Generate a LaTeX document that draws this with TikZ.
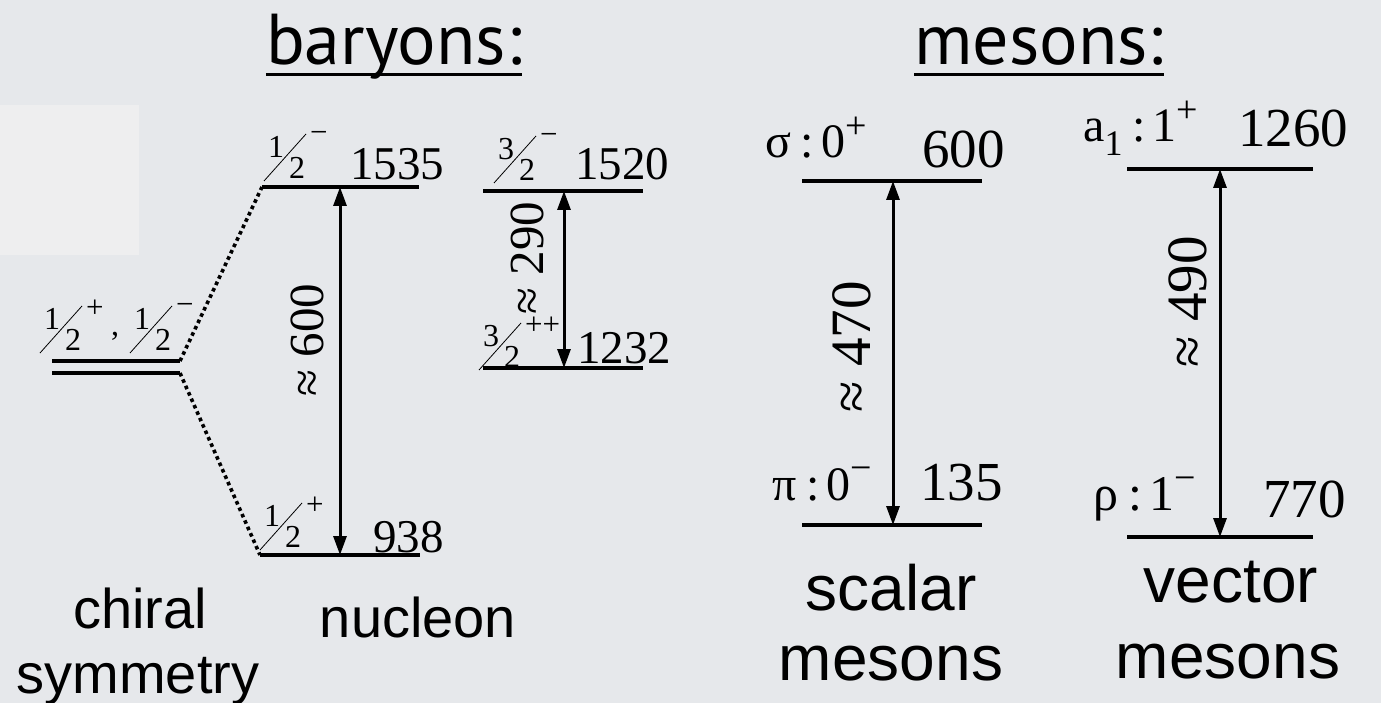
\documentclass[tikz,border=0pt]{standalone}
\usepackage{fontspec}
\setmainfont{Liberation Serif}
\newfontfamily\hel{Liberation Sans}
\newfontfamily\gill{PT Sans}
\usetikzlibrary{arrows.meta}
\definecolor{bg}{HTML}{E6E8EB}
\definecolor{panel}{HTML}{EEEEEF}
\newcommand{\upsign}[1]{\raisebox{0.40em}{\fontsize{38}{38}\selectfont #1}}
\tikzset{
 level/.style={line width=3.5pt},
 gaparrow/.style={line width=3pt, {Triangle[length=19pt,width=13pt]}-{Triangle[length=19pt,width=13pt]}},
 dotline/.style={line width=3.6pt, dash pattern=on 3.6pt off 3.4pt},
 bnum/.style={inner sep=0pt, anchor=base west, font=\fontsize{47}{50}\selectfont},
 mnum/.style={inner sep=0pt, anchor=base west, font=\fontsize{55}{60}\selectfont},
 mlab/.style={inner sep=0pt, anchor=base west, font=\fontsize{48}{52}\selectfont},
 gapb/.style={inner sep=0pt, rotate=90, font=\fontsize{49}{52}\selectfont},
 gapm/.style={inner sep=0pt, rotate=90, font=\fontsize{57}{60}\selectfont},
 fracdig/.style={inner sep=0pt, font=\fontsize{32}{34}\selectfont},
 fracsup/.style={inner sep=0pt, anchor=west, font=\fontsize{31}{34}\selectfont},
 title/.style={inner sep=0pt, anchor=base, font=\gill\fontsize{72}{80}\selectfont},
 caption/.style={inner sep=0pt, anchor=base, font=\hel\fontsize{56}{60}\selectfont},
 mcaption/.style={inner sep=0pt, anchor=base, font=\hel\fontsize{64}{68}\selectfont},
 pics/spinfrac/.style n args={3}{code={
   \draw[line width=0.8pt] (-21,23) -- (21,-24);
   \node[fracdig] (-n) at (-9,-11) {#1};
   \node[fracdig] (-d) at (12,10) {#2};
   \node[fracsup] (-s) at (25,-21) {#3};
 }},
}
\begin{document}
\begin{tikzpicture}[x=1pt,y=-1pt]
\fill[bg] (0,0) rectangle (1381,703);
\useasboundingbox (0,0) rectangle (1381,703);
\fill[panel] (0,105) rectangle (139,255);

% titles
\node[title] (tb) at (394,65) {baryons:};
\node[title] (tm) at (1039,65) {mesons:};
\draw[line width=3pt] ([yshift=-10pt]tb.base west) -- ([yshift=-10pt]tb.base east);
\draw[line width=3pt] ([yshift=-10pt]tm.base west) -- ([yshift=-10pt]tm.base east);

% chiral doublet
\coordinate (c1a) at (52,361); \coordinate (c1b) at (180,361);
\coordinate (c2a) at (52,373); \coordinate (c2b) at (180,373);
\draw[level] (c1a) -- (c1b);
\draw[level] (c2a) -- (c2b);
\pic (fa) at (61,330) {spinfrac={1}{2}{+}};
\node[fracdig] (comma) at (115,336) {,};
\pic (fb) at (151,330) {spinfrac={1}{2}{−}};

% nucleon levels
\coordinate (n1a) at (262,187); \coordinate (n1b) at (419,187);
\coordinate (n0a) at (260,555); \coordinate (n0b) at (420,555);
\draw[level] (n1a) -- (n1b);
\draw[level] (n0a) -- (n0b);
\draw[dotline] (c1b) -- (n1a);
\draw[dotline] (c2b) -- (n0a);
\pic (fc) at (285,158) {spinfrac={1}{2}{−}};
\pic (fd) at (281,527) {spinfrac={1}{2}{+}};
\node[bnum] (m1535) at (350,180) {1535};
\node[bnum] (m938) at (373,552) {938};
\coordinate (na) at (340,187); \coordinate (nb) at (340,555);
\draw[gaparrow] (nb) -- (na);
\node[gapb] (g600) at (307,340) {≈ 600};

% Delta levels
\coordinate (d1a) at (483,191); \coordinate (d1b) at (643,191);
\coordinate (d0a) at (483,368); \coordinate (d0b) at (643,368);
\draw[level] (d1a) -- (d1b);
\draw[level] (d0a) -- (d0b);
\pic (fe) at (515,160) {spinfrac={3}{2}{−}};
\pic (ff) at (500,347) {spinfrac={3}{2}{++}};
\node[bnum] (m1520) at (575,180) {1520};
\node[bnum] (m1232) at (577,363) {1232};
\coordinate (da) at (564,191); \coordinate (db) at (564,368);
\draw[gaparrow] (db) -- (da);
\node[gapb] (g290) at (527,258) {≈ 290};

% scalar mesons
\coordinate (s1a) at (802,181); \coordinate (s1b) at (982,181);
\coordinate (s0a) at (802,525); \coordinate (s0b) at (982,525);
\draw[level] (s1a) -- (s1b);
\draw[level] (s0a) -- (s0b);
\node[mlab] (lsig) at (765,158) {σ\hspace{0.2em}:\hspace{0.15em}0\upsign{+}};
\node[mnum] (m600) at (922,168) {600};
\node[mlab] (lpi) at (772,500) {π\hspace{0.2em}:\hspace{0.15em}0\upsign{−}};
\node[mnum] (m135) at (920,500) {135};
\coordinate (sa) at (893,181); \coordinate (sb) at (893,525);
\draw[gaparrow] (sb) -- (sa);
\node[gapm] (g470) at (852,347) {≈ 470};

% vector mesons
\coordinate (v1a) at (1127,169); \coordinate (v1b) at (1313,169);
\coordinate (v0a) at (1127,537); \coordinate (v0b) at (1313,537);
\draw[level] (v1a) -- (v1b);
\draw[level] (v0a) -- (v0b);
\node[mlab] (la1) at (1083,142) {a\raisebox{-0.28em}{\fontsize{36}{36}\selectfont 1}\hspace{0.2em}:\hspace{0.15em}1\upsign{+}};
\node[mnum] (m1260) at (1238,147) {1260};
\node[mlab, font=\fontsize{50}{54}\selectfont] (lrho) at (1093,510) {ρ\hspace{0.2em}:\hspace{0.15em}1\upsign{−}};
\node[mnum] (m770) at (1263,517) {770};
\coordinate (va) at (1220,169); \coordinate (vb) at (1220,537);
\draw[gaparrow] (vb) -- (va);
\node[gapm] (g490) at (1188,302) {≈ 490};

% captions
\node[caption] (cap1) at (140,628) {chiral};
\node[caption] (cap2) at (138,693) {symmetry};
\node[caption] (cap3) at (418,637) {nucleon};
\node[mcaption] (cap4) at (891,610) {scalar};
\node[mcaption] (cap5) at (891,680) {mesons};
\node[mcaption] (cap6) at (1231,602) {vector};
\node[mcaption] (cap7) at (1228,678) {mesons};
\end{tikzpicture}
\end{document}
